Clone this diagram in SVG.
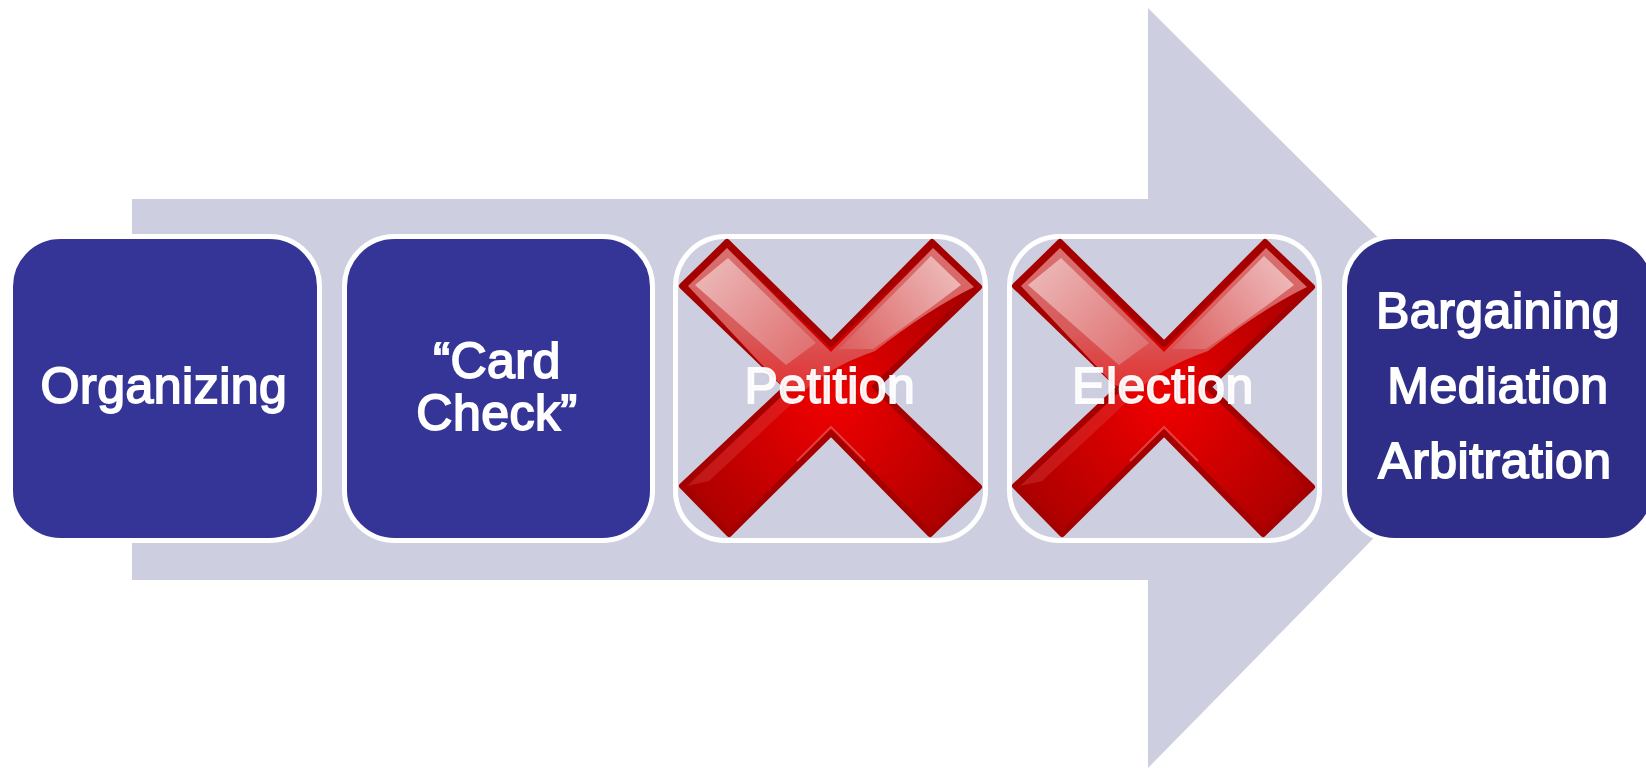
<svg xmlns="http://www.w3.org/2000/svg" xmlns:xlink="http://www.w3.org/1999/xlink" width="1646" height="768" viewBox="0 0 1646 768">
<style>
.box{stroke:#fff;stroke-width:5}
.b1{fill:#353597}
.b5{fill:#2e2e88}
.clear{fill:#cdcfe0}
text{font-family:"Liberation Sans",Arial,sans-serif;font-size:50px;letter-spacing:.5px;fill:#fff;stroke:#fff;stroke-width:1.8;text-anchor:middle}
.over{fill-opacity:.92;stroke-opacity:.92}
</style>
<defs>
<radialGradient id="red" gradientUnits="userSpaceOnUse" cx="152" cy="165" r="175">
<stop offset="0" stop-color="#f00000"/><stop offset=".5" stop-color="#cc0000"/><stop offset="1" stop-color="#a80000"/>
</radialGradient>
<linearGradient id="glass" gradientUnits="userSpaceOnUse" x1="152" y1="10" x2="152" y2="150">
<stop offset="0" stop-color="#d87070"/><stop offset=".6" stop-color="#d85a5a"/><stop offset="1" stop-color="#e43030"/>
</linearGradient>
<linearGradient id="hiL" gradientUnits="userSpaceOnUse" x1="25" y1="25" x2="125" y2="120">
<stop offset="0" stop-color="#ecb8b8"/><stop offset="1" stop-color="#e07070"/>
</linearGradient>
<linearGradient id="hiR" gradientUnits="userSpaceOnUse" x1="275" y1="25" x2="165" y2="110">
<stop offset="0" stop-color="#eebcbc"/><stop offset="1" stop-color="#dc6060"/>
</linearGradient>
<g id="cross">
<path d="M48 3 L152 105 L253 3 L300 48 L196 148 L300 248 L251 295 L152 194 L50 295 L3 247 L108 148 L3 47 Z" fill="url(#red)" stroke="#a40000" stroke-width="6" stroke-linejoin="round"/>
<path d="M48 9 L152 113 L254 9 L295 48 Q250 70 196 112 Q150 128 125 152 L102 146 L9 47 Z" fill="url(#glass)"/>
<path d="M16 46 L49 19 L137 104 L107 126 Z" fill="url(#hiL)"/>
<path d="M252 17 L282 46 L254 67 L194 110 L160 110 Z" fill="url(#hiR)"/>
<path d="M8 247 L105 155 L118 160 L30 242 Z" fill="#e05050" fill-opacity=".3"/>
<path d="M118 222 L152 188 L186 222" fill="none" stroke="#e87070" stroke-width="2" stroke-opacity=".55"/>
</g>
</defs>
<g id="connectors">
<polygon id="arrow" points="132,199 1148,199 1148,8 1525,384 1148,768 1148,580 132,580" fill="#cdcfe0"/>
</g>
<g id="node-organizing">
<rect class="box b1" x="10.5" y="236.5" width="309" height="304" rx="50"/>
<text x="164" y="403">Organizing</text>
</g>
<g id="node-card-check">
<rect class="box b1" x="344.5" y="236.5" width="308" height="304" rx="50"/>
<text x="497" y="378">“Card</text>
<text x="497" y="430">Check”</text>
</g>
<g id="node-petition">
<rect class="box clear" x="675.5" y="236.5" width="310" height="304" rx="50"/>
<use xlink:href="#cross" href="#cross" x="679" y="239"/>
<text class="over" x="830" y="403">Petition</text>
</g>
<g id="node-election">
<rect class="box clear" x="1009.5" y="236.5" width="310" height="304" rx="50"/>
<use xlink:href="#cross" href="#cross" x="1012" y="239"/>
<text class="over" x="1163" y="403">Election</text>
</g>
<g id="node-outcomes">
<rect class="box b5" x="1344.5" y="236.5" width="310" height="304" rx="50"/>
<text x="1498" y="328">Bargaining</text>
<text x="1498" y="403">Mediation</text>
<text x="1495" y="478">Arbitration</text>
</g>
</svg>
